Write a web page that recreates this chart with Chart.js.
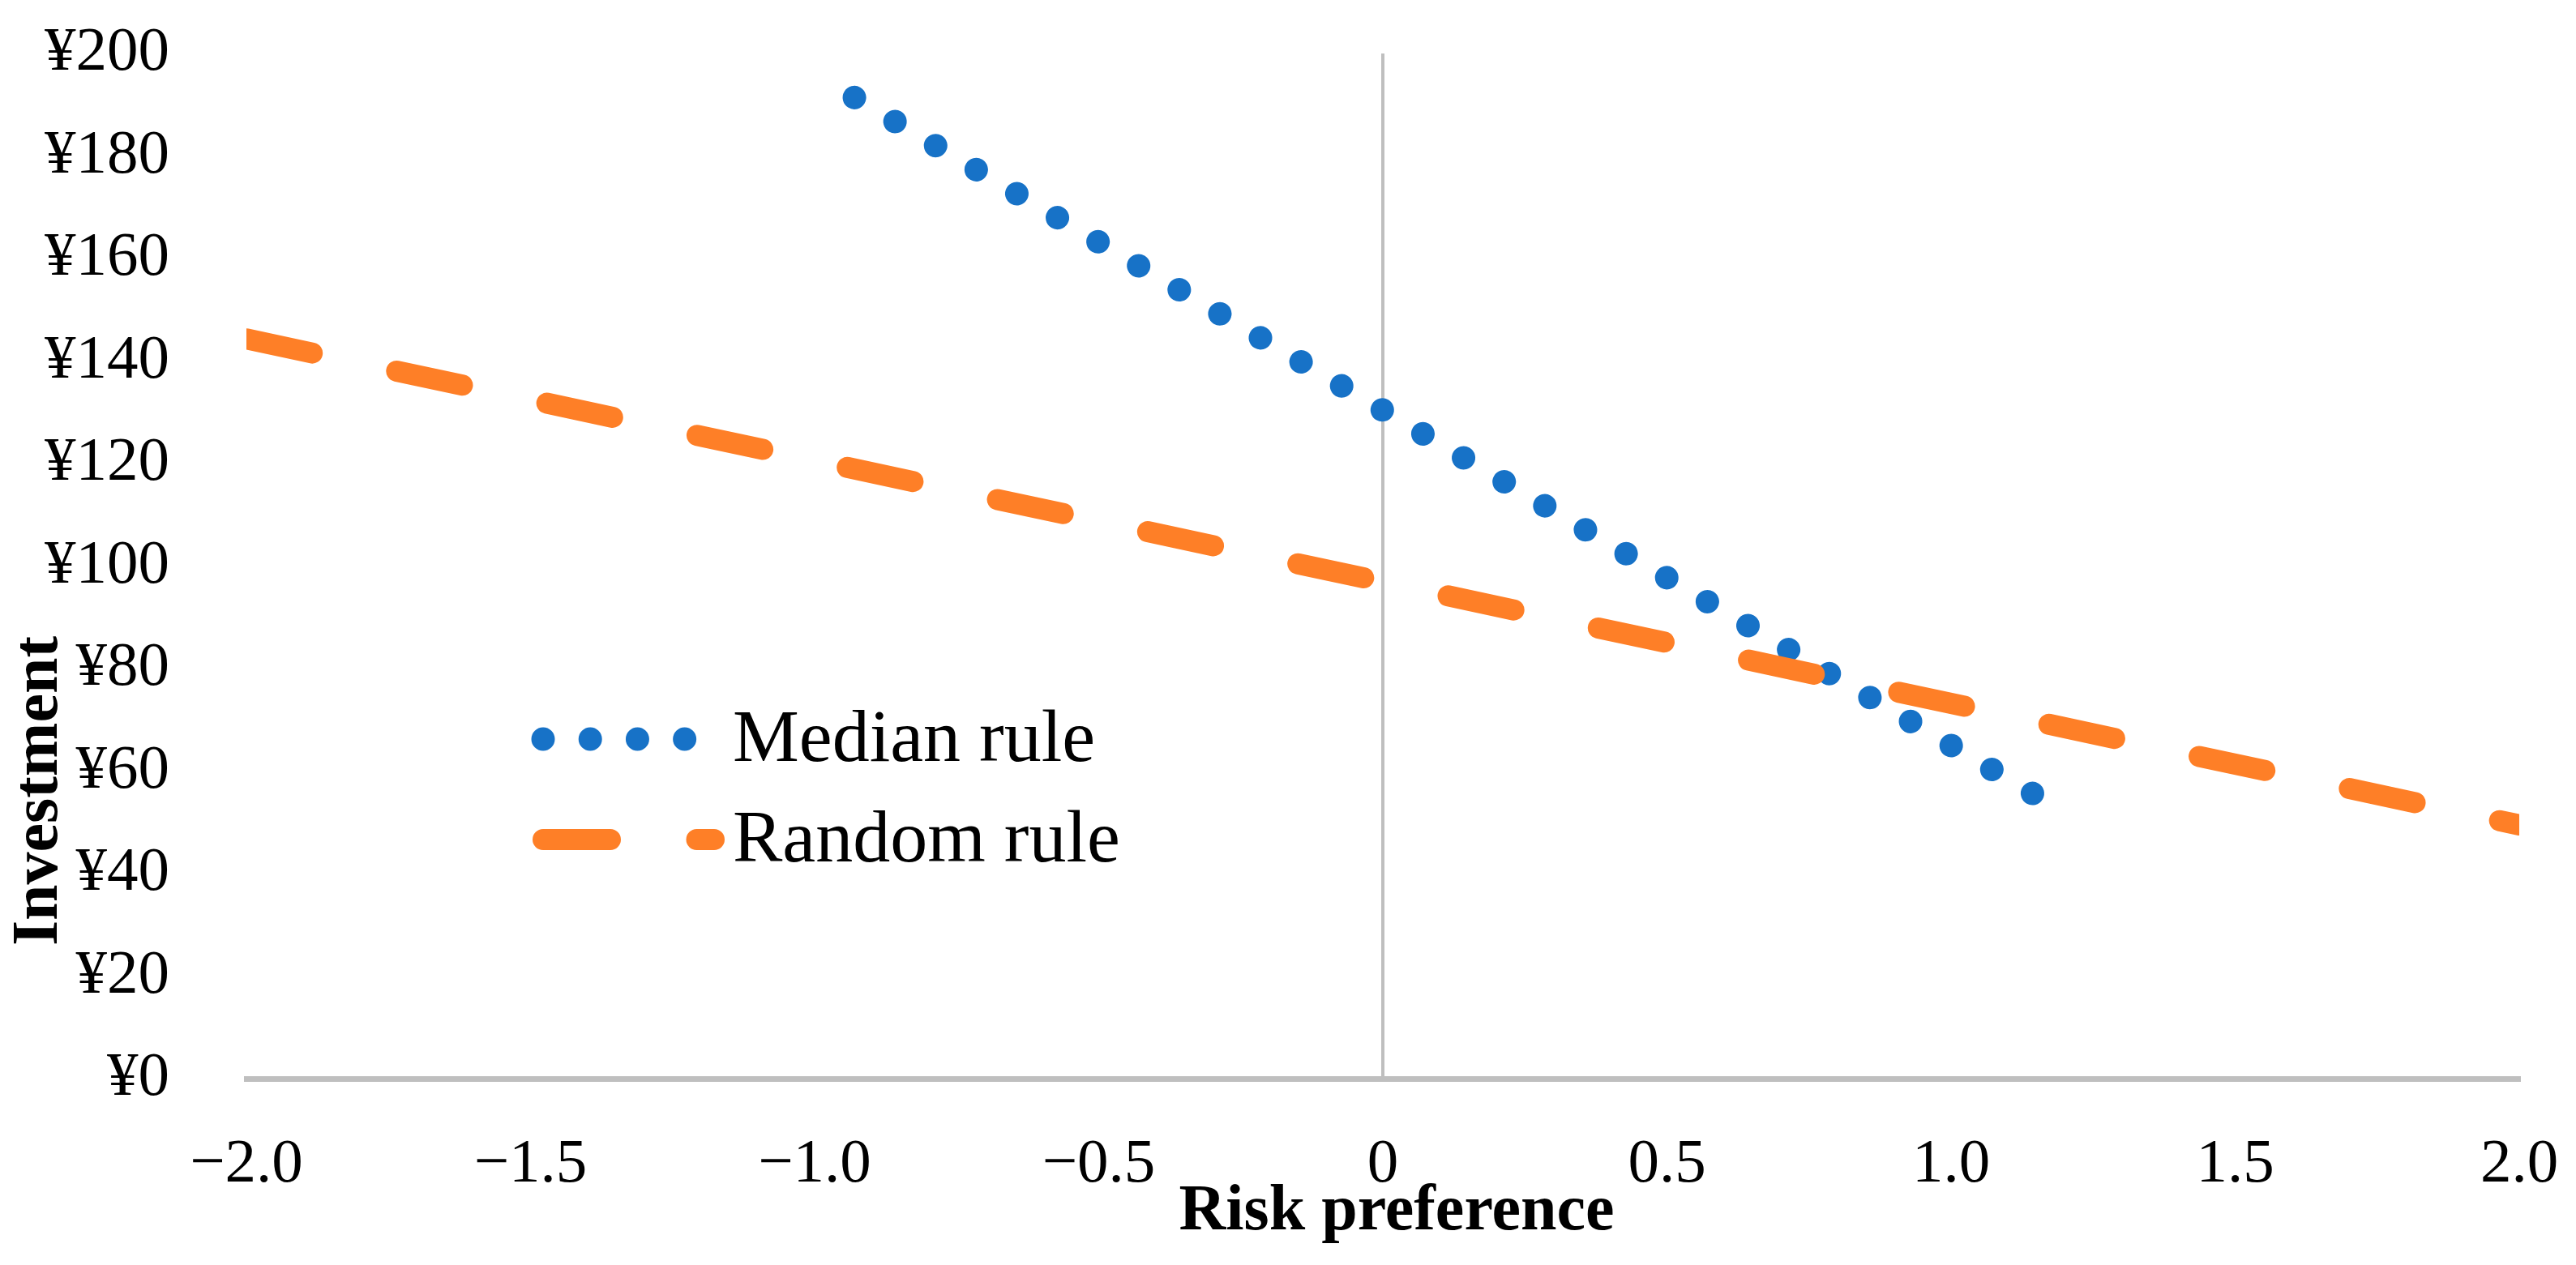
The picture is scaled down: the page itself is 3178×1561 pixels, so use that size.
<!DOCTYPE html>
<html>
<head>
<meta charset="utf-8">
<script src="https://cdn.jsdelivr.net/npm/chart.js@4.4.1/dist/chart.umd.min.js"></script>
<style>
    html, body { margin: 0; padding: 0; background: #fff; }
    #wrap { width: 3178px; height: 1561px; }
</style>
</head>
<body>
<div id="wrap"><canvas id="investChart" width="3178" height="1561"></canvas></div>
<script>
// values
const seriesNames = ['Median rule', 'Random rule'];
const medianX = [-0.93, 0, 1.15];
const medianY = [191.4, 130.4, 55.2];
const randomX = [-2, 0, 2];
const randomY = [144.3, 96.9, 49.5];

const xTicks = [-2, -1.5, -1, -0.5, 0, 0.5, 1, 1.5, 2];
const xTickLabels = ['\u22122.0', '\u22121.5', '\u22121.0', '\u22120.5', '0', '0.5', '1.0', '1.5', '2.0'];
const yTicks = [0, 20, 40, 60, 80, 100, 120, 140, 160, 180, 200];
const yTickLabels = ['¥0', '¥20', '¥40', '¥60', '¥80', '¥100', '¥120', '¥140', '¥160', '¥180', '¥200'];

const xTitle = 'Risk preference';
const yTitle = 'Investment';

const FONT = '"Liberation Serif", "DejaVu Serif", serif';

function toPoints(xs, ys) {
    return xs.map((x, i) => ({ x: x, y: ys[i] }));
}

// axis titles sit where the original put them (y title moved down)
const axisTitles = {
    id: 'axisTitles',
    afterDraw(chart) {
        const ctx = chart.ctx;
        ctx.save();
        ctx.fillStyle = '#000';
        ctx.font = 'bold 80px ' + FONT;
        ctx.textAlign = 'center';
        ctx.textBaseline = 'alphabetic';
        ctx.fillText(xTitle, 1723, 1517);
        ctx.translate(70, 976);
        ctx.rotate(-Math.PI / 2);
        ctx.fillText(yTitle, 0, 0);
        ctx.restore();
    }
};

// legend inside the plot, samples use each dataset's own line style
const insideLegend = {
    id: 'insideLegend',
    afterDraw(chart) {
        const ctx = chart.ctx;
        chart.data.datasets.forEach(function (ds, i) {
            const y = 912 + i * 124;
            ctx.save();
            ctx.strokeStyle = ds.borderColor;
            ctx.lineWidth = ds.borderWidth;
            ctx.lineCap = ds.borderCapStyle;
            ctx.setLineDash(ds.borderDash);
            ctx.beginPath();
            ctx.moveTo(670, y);
            ctx.lineTo(881, y);
            ctx.stroke();
            ctx.setLineDash([]);
            ctx.fillStyle = '#000';
            ctx.font = '92px ' + FONT;
            ctx.textAlign = 'left';
            ctx.textBaseline = 'alphabetic';
            ctx.fillText(ds.label, 904, y + 27);
            ctx.restore();
        });
    }
};

new Chart(document.getElementById('investChart'), {
    type: 'line',
    data: {
        datasets: [{
            label: seriesNames[0],
            data: toPoints(medianX, medianY),
            borderColor: '#1772C7',
            borderWidth: 29,
            borderCapStyle: 'round',
            borderDash: [0.01, 58.2],
            pointRadius: 0,
            fill: false,
            tension: 0,
            order: 2,
            clip: { left: 0, right: 0, top: 40, bottom: 40 }
        }, {
            label: seriesNames[1],
            data: toPoints(randomX, randomY),
            borderColor: '#FE7F27',
            borderWidth: 26,
            borderCapStyle: 'round',
            borderDash: [83, 106.5],
            pointRadius: 0,
            fill: false,
            tension: 0,
            order: 1,
            clip: { left: 0, right: 0, top: 40, bottom: 40 }
        }]
    },
    options: {
        responsive: false,
        devicePixelRatio: 1,
        animation: false,
        layout: {
            padding: { top: 66, right: 70, left: 0, bottom: 0 }
        },
        plugins: {
            legend: { display: false },
            tooltip: { enabled: false }
        },
        scales: {
            x: {
                type: 'linear',
                min: -2,
                max: 2,
                afterBuildTicks: function (scale) {
                    scale.ticks = xTicks.map(v => ({ value: v }));
                },
                afterFit: function (scale) {
                    scale.height = 230;
                    scale.paddingLeft = 0;
                    scale.paddingRight = 0;
                },
                ticks: {
                    color: '#000',
                    font: { family: FONT, size: 77 },
                    padding: 61,
                    maxRotation: 0,
                    autoSkip: false,
                    callback: function (value) { return xTickLabels[xTicks.indexOf(value)]; }
                },
                grid: {
                    drawTicks: false,
                    lineWidth: 4,
                    color: function (c) { return c.tick && c.tick.value === 0 ? '#BFBFBF' : 'rgba(0,0,0,0)'; }
                },
                border: { display: true, color: '#BFBFBF', width: 7 }
            },
            y: {
                type: 'linear',
                min: 0,
                max: 200,
                afterBuildTicks: function (scale) {
                    scale.ticks = yTicks.map(v => ({ value: v }));
                },
                afterFit: function (scale) {
                    scale.width = 304;
                    scale.paddingTop = 0;
                    scale.paddingBottom = 0;
                },
                ticks: {
                    color: '#000',
                    font: { family: FONT, size: 77 },
                    padding: 95,
                    autoSkip: false,
                    callback: function (value) { return yTickLabels[yTicks.indexOf(value)]; }
                },
                grid: { display: false, drawTicks: false },
                border: { display: false }
            }
        }
    },
    plugins: [axisTitles, insideLegend]
});
</script>
</body>
</html>
